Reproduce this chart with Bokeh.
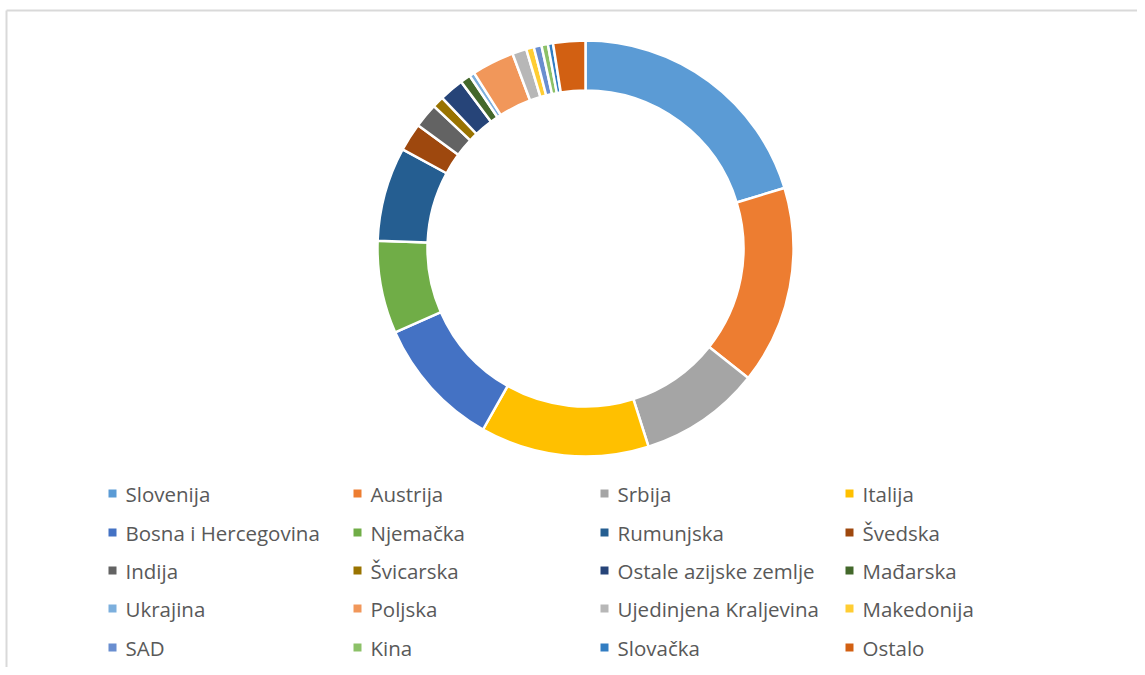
import math
from bokeh.plotting import figure
from bokeh.models import Range1d, ColumnDataSource
from bokeh.core.properties import value
from bokeh.embed import file_html
from bokeh.resources import INLINE

countries = ["Slovenija", "Austrija", "Srbija", "Italija",
             "Bosna i Hercegovina", "Njemačka", "Rumunjska", "Švedska",
             "Indija", "Švicarska", "Ostale azijske zemlje", "Mađarska",
             "Ukrajina", "Poljska", "Ujedinjena Kraljevina", "Makedonija",
             "SAD", "Kina", "Slovačka", "Ostalo"]
shares = [20.3, 15.4, 9.4, 13.1,
          10.2, 7.2, 7.3, 2.2,
          1.9, 0.9, 1.9, 0.8,
          0.4, 3.3, 1.1, 0.6,
          0.6, 0.5, 0.4, 2.5]
colors = ["#5B9BD5", "#ED7D31", "#A5A5A5", "#FFC000",
          "#4472C4", "#70AD47", "#255E91", "#9E480E",
          "#636363", "#997300", "#264478", "#43682B",
          "#7CAFDD", "#F1975A", "#B7B7B7", "#FFCD33",
          "#698ED0", "#8CC168", "#327DC2", "#D26012"]

W, H = 1137, 667

def sx(x):
    return x

def sy(y):
    return H - y

total = sum(shares)
starts, ends = [], []
cum = 0.0
for v in shares:
    starts.append(math.pi / 2 - 2 * math.pi * cum / total)
    cum += v
    ends.append(math.pi / 2 - 2 * math.pi * cum / total)

p = figure(width=W, height=H, output_backend="svg", toolbar_location=None,
           x_range=Range1d(0, W), y_range=Range1d(0, H), min_border=0)
p.axis.visible = False
p.grid.visible = False
p.outline_line_color = None
p.background_fill_color = "white"

cx, cy = sx(585), sy(248)
src = ColumnDataSource(dict(start=starts, end=ends, color=colors, name=countries))
p.annular_wedge(x=cx, y=cy, inner_radius=158, outer_radius=208,
                start_angle="start", end_angle="end", direction="clock",
                fill_color="color", line_color="white", line_width=2.5,
                inner_radius_units="screen", outer_radius_units="screen",
                source=src)

# legend
col_x = [108, 353, 600, 845]
row_y = [493, 532, 570, 608, 647]
mx, my, tx, ty = [], [], [], []
for i in range(len(countries)):
    c, r = i % 4, i // 4
    mx.append(sx(col_x[c] + 4))
    my.append(sy(row_y[r]))
    tx.append(sx(col_x[c] + 17))
    ty.append(sy(row_y[r]))
lsrc = ColumnDataSource(dict(mx=mx, my=my, tx=tx, ty=ty, color=colors, name=countries))
p.scatter(x="mx", y="my", marker="square", size=8, fill_color="color",
          line_color=None, source=lsrc)
p.text(x="tx", y="ty", text="name", source=lsrc, text_font=value("Open Sans"),
       text_font_size="20.5px", text_color="#595959", text_baseline="middle",
       text_align="left")

# chart-area border (left and top visible)
p.line(x=[sx(6), sx(6)], y=[sy(675), sy(10)], line_color="#D9D9D9", line_width=2)
p.line(x=[sx(6), sx(1145)], y=[sy(10), sy(10)], line_color="#D9D9D9", line_width=2)

open("out.html", "w").write(file_html(p, INLINE))
